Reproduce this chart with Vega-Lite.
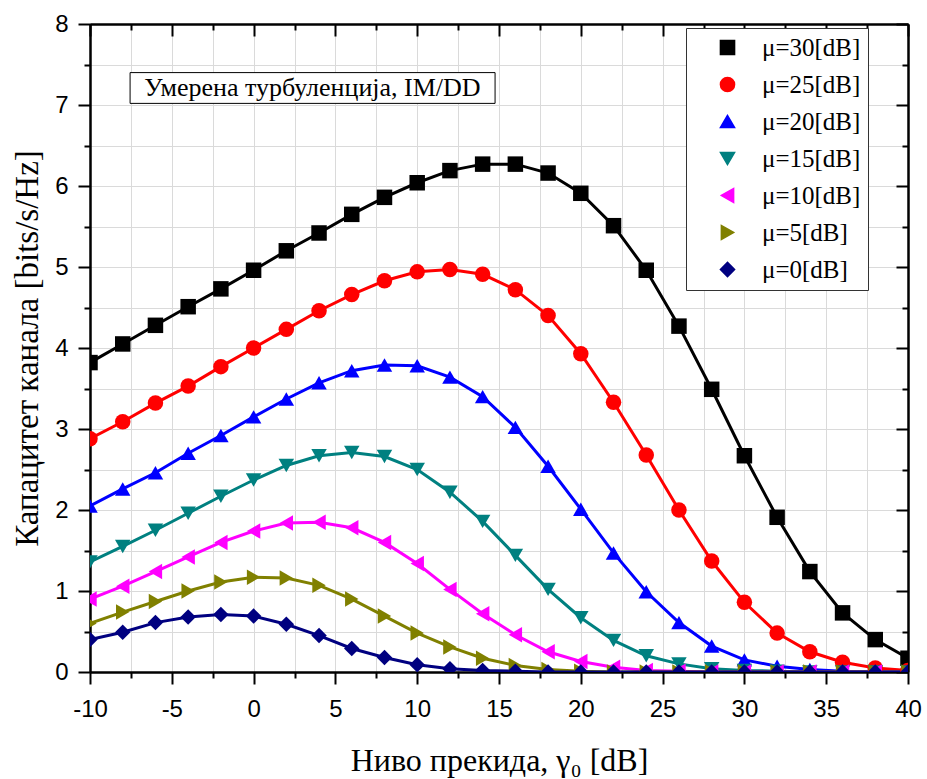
{
  "$schema": "https://vega.github.io/schema/vega-lite/v6.json",
  "width": 818,
  "height": 648,
  "autosize": "none",
  "padding": {"left": 90, "top": 24, "right": 19, "bottom": 107},
  "background": "white",
  "config": {
    "view": {"stroke": null},
    "axis": {"labelFont": "Liberation Sans", "labelFontSize": 24, "labelColor": "black", "titleFont": "Liberation Serif", "titleFontWeight": "normal", "titleColor": "black", "domainColor": "black", "domainWidth": 2, "tickColor": "black", "tickWidth": 2, "gridColor": "#dadada", "gridWidth": 1, "labelFlush": false, "labelOverlap": false}
  },
  "data": {"values": [
    {"x":-10,"y":3.82,"s":"μ=30[dB]"},{"x":-8,"y":4.05,"s":"μ=30[dB]"},{"x":-6,"y":4.28,"s":"μ=30[dB]"},{"x":-4,"y":4.51,"s":"μ=30[dB]"},{"x":-2,"y":4.73,"s":"μ=30[dB]"},{"x":0,"y":4.96,"s":"μ=30[dB]"},{"x":2,"y":5.20,"s":"μ=30[dB]"},{"x":4,"y":5.42,"s":"μ=30[dB]"},{"x":6,"y":5.65,"s":"μ=30[dB]"},{"x":8,"y":5.86,"s":"μ=30[dB]"},{"x":10,"y":6.04,"s":"μ=30[dB]"},{"x":12,"y":6.19,"s":"μ=30[dB]"},{"x":14,"y":6.27,"s":"μ=30[dB]"},{"x":16,"y":6.27,"s":"μ=30[dB]"},{"x":18,"y":6.16,"s":"μ=30[dB]"},{"x":20,"y":5.91,"s":"μ=30[dB]"},{"x":22,"y":5.51,"s":"μ=30[dB]"},{"x":24,"y":4.96,"s":"μ=30[dB]"},{"x":26,"y":4.27,"s":"μ=30[dB]"},{"x":28,"y":3.49,"s":"μ=30[dB]"},{"x":30,"y":2.67,"s":"μ=30[dB]"},{"x":32,"y":1.91,"s":"μ=30[dB]"},{"x":34,"y":1.24,"s":"μ=30[dB]"},{"x":36,"y":0.73,"s":"μ=30[dB]"},{"x":38,"y":0.40,"s":"μ=30[dB]"},{"x":40,"y":0.17,"s":"μ=30[dB]"},
    {"x":-10,"y":2.88,"s":"μ=25[dB]"},{"x":-8,"y":3.09,"s":"μ=25[dB]"},{"x":-6,"y":3.32,"s":"μ=25[dB]"},{"x":-4,"y":3.53,"s":"μ=25[dB]"},{"x":-2,"y":3.77,"s":"μ=25[dB]"},{"x":0,"y":4.00,"s":"μ=25[dB]"},{"x":2,"y":4.23,"s":"μ=25[dB]"},{"x":4,"y":4.46,"s":"μ=25[dB]"},{"x":6,"y":4.66,"s":"μ=25[dB]"},{"x":8,"y":4.83,"s":"μ=25[dB]"},{"x":10,"y":4.94,"s":"μ=25[dB]"},{"x":12,"y":4.97,"s":"μ=25[dB]"},{"x":14,"y":4.91,"s":"μ=25[dB]"},{"x":16,"y":4.72,"s":"μ=25[dB]"},{"x":18,"y":4.40,"s":"μ=25[dB]"},{"x":20,"y":3.93,"s":"μ=25[dB]"},{"x":22,"y":3.33,"s":"μ=25[dB]"},{"x":24,"y":2.68,"s":"μ=25[dB]"},{"x":26,"y":2.00,"s":"μ=25[dB]"},{"x":28,"y":1.37,"s":"μ=25[dB]"},{"x":30,"y":0.86,"s":"μ=25[dB]"},{"x":32,"y":0.48,"s":"μ=25[dB]"},{"x":34,"y":0.25,"s":"μ=25[dB]"},{"x":36,"y":0.12,"s":"μ=25[dB]"},{"x":38,"y":0.05,"s":"μ=25[dB]"},{"x":40,"y":0.02,"s":"μ=25[dB]"},
    {"x":-10,"y":2.05,"s":"μ=20[dB]"},{"x":-8,"y":2.26,"s":"μ=20[dB]"},{"x":-6,"y":2.46,"s":"μ=20[dB]"},{"x":-4,"y":2.70,"s":"μ=20[dB]"},{"x":-2,"y":2.92,"s":"μ=20[dB]"},{"x":0,"y":3.15,"s":"μ=20[dB]"},{"x":2,"y":3.37,"s":"μ=20[dB]"},{"x":4,"y":3.57,"s":"μ=20[dB]"},{"x":6,"y":3.72,"s":"μ=20[dB]"},{"x":8,"y":3.79,"s":"μ=20[dB]"},{"x":10,"y":3.78,"s":"μ=20[dB]"},{"x":12,"y":3.64,"s":"μ=20[dB]"},{"x":14,"y":3.40,"s":"μ=20[dB]"},{"x":16,"y":3.02,"s":"μ=20[dB]"},{"x":18,"y":2.54,"s":"μ=20[dB]"},{"x":20,"y":2.01,"s":"μ=20[dB]"},{"x":22,"y":1.47,"s":"μ=20[dB]"},{"x":24,"y":0.99,"s":"μ=20[dB]"},{"x":26,"y":0.61,"s":"μ=20[dB]"},{"x":28,"y":0.32,"s":"μ=20[dB]"},{"x":30,"y":0.15,"s":"μ=20[dB]"},{"x":32,"y":0.07,"s":"μ=20[dB]"},{"x":34,"y":0.03,"s":"μ=20[dB]"},{"x":36,"y":0.01,"s":"μ=20[dB]"},{"x":38,"y":0.0,"s":"μ=20[dB]"},{"x":40,"y":0.0,"s":"μ=20[dB]"},
    {"x":-10,"y":1.36,"s":"μ=15[dB]"},{"x":-8,"y":1.55,"s":"μ=15[dB]"},{"x":-6,"y":1.75,"s":"μ=15[dB]"},{"x":-4,"y":1.96,"s":"μ=15[dB]"},{"x":-2,"y":2.17,"s":"μ=15[dB]"},{"x":0,"y":2.37,"s":"μ=15[dB]"},{"x":2,"y":2.55,"s":"μ=15[dB]"},{"x":4,"y":2.67,"s":"μ=15[dB]"},{"x":6,"y":2.71,"s":"μ=15[dB]"},{"x":8,"y":2.66,"s":"μ=15[dB]"},{"x":10,"y":2.50,"s":"μ=15[dB]"},{"x":12,"y":2.22,"s":"μ=15[dB]"},{"x":14,"y":1.86,"s":"μ=15[dB]"},{"x":16,"y":1.44,"s":"μ=15[dB]"},{"x":18,"y":1.02,"s":"μ=15[dB]"},{"x":20,"y":0.67,"s":"μ=15[dB]"},{"x":22,"y":0.39,"s":"μ=15[dB]"},{"x":24,"y":0.20,"s":"μ=15[dB]"},{"x":26,"y":0.10,"s":"μ=15[dB]"},{"x":28,"y":0.04,"s":"μ=15[dB]"},{"x":30,"y":0.02,"s":"μ=15[dB]"},{"x":32,"y":0.01,"s":"μ=15[dB]"},{"x":34,"y":0.0,"s":"μ=15[dB]"},{"x":36,"y":0.0,"s":"μ=15[dB]"},{"x":38,"y":0.0,"s":"μ=15[dB]"},{"x":40,"y":0.0,"s":"μ=15[dB]"},
    {"x":-10,"y":0.90,"s":"μ=10[dB]"},{"x":-8,"y":1.06,"s":"μ=10[dB]"},{"x":-6,"y":1.24,"s":"μ=10[dB]"},{"x":-4,"y":1.42,"s":"μ=10[dB]"},{"x":-2,"y":1.60,"s":"μ=10[dB]"},{"x":0,"y":1.74,"s":"μ=10[dB]"},{"x":2,"y":1.84,"s":"μ=10[dB]"},{"x":4,"y":1.85,"s":"μ=10[dB]"},{"x":6,"y":1.78,"s":"μ=10[dB]"},{"x":8,"y":1.60,"s":"μ=10[dB]"},{"x":10,"y":1.34,"s":"μ=10[dB]"},{"x":12,"y":1.02,"s":"μ=10[dB]"},{"x":14,"y":0.72,"s":"μ=10[dB]"},{"x":16,"y":0.46,"s":"μ=10[dB]"},{"x":18,"y":0.25,"s":"μ=10[dB]"},{"x":20,"y":0.13,"s":"μ=10[dB]"},{"x":22,"y":0.06,"s":"μ=10[dB]"},{"x":24,"y":0.02,"s":"μ=10[dB]"},{"x":26,"y":0.01,"s":"μ=10[dB]"},{"x":28,"y":0.0,"s":"μ=10[dB]"},{"x":30,"y":0.0,"s":"μ=10[dB]"},{"x":32,"y":0.0,"s":"μ=10[dB]"},{"x":34,"y":0.0,"s":"μ=10[dB]"},{"x":36,"y":0.0,"s":"μ=10[dB]"},{"x":38,"y":0.0,"s":"μ=10[dB]"},{"x":40,"y":0.0,"s":"μ=10[dB]"},
    {"x":-10,"y":0.60,"s":"μ=5[dB]"},{"x":-8,"y":0.74,"s":"μ=5[dB]"},{"x":-6,"y":0.87,"s":"μ=5[dB]"},{"x":-4,"y":1.00,"s":"μ=5[dB]"},{"x":-2,"y":1.11,"s":"μ=5[dB]"},{"x":0,"y":1.17,"s":"μ=5[dB]"},{"x":2,"y":1.16,"s":"μ=5[dB]"},{"x":4,"y":1.07,"s":"μ=5[dB]"},{"x":6,"y":0.90,"s":"μ=5[dB]"},{"x":8,"y":0.69,"s":"μ=5[dB]"},{"x":10,"y":0.48,"s":"μ=5[dB]"},{"x":12,"y":0.31,"s":"μ=5[dB]"},{"x":14,"y":0.17,"s":"μ=5[dB]"},{"x":16,"y":0.08,"s":"μ=5[dB]"},{"x":18,"y":0.03,"s":"μ=5[dB]"},{"x":20,"y":0.01,"s":"μ=5[dB]"},{"x":22,"y":0.0,"s":"μ=5[dB]"},{"x":24,"y":0.0,"s":"μ=5[dB]"},{"x":26,"y":0.0,"s":"μ=5[dB]"},{"x":28,"y":0.0,"s":"μ=5[dB]"},{"x":30,"y":0.0,"s":"μ=5[dB]"},{"x":32,"y":0.0,"s":"μ=5[dB]"},{"x":34,"y":0.0,"s":"μ=5[dB]"},{"x":36,"y":0.0,"s":"μ=5[dB]"},{"x":38,"y":0.0,"s":"μ=5[dB]"},{"x":40,"y":0.0,"s":"μ=5[dB]"},
    {"x":-10,"y":0.40,"s":"μ=0[dB]"},{"x":-8,"y":0.49,"s":"μ=0[dB]"},{"x":-6,"y":0.61,"s":"μ=0[dB]"},{"x":-4,"y":0.68,"s":"μ=0[dB]"},{"x":-2,"y":0.71,"s":"μ=0[dB]"},{"x":0,"y":0.69,"s":"μ=0[dB]"},{"x":2,"y":0.59,"s":"μ=0[dB]"},{"x":4,"y":0.45,"s":"μ=0[dB]"},{"x":6,"y":0.29,"s":"μ=0[dB]"},{"x":8,"y":0.18,"s":"μ=0[dB]"},{"x":10,"y":0.09,"s":"μ=0[dB]"},{"x":12,"y":0.04,"s":"μ=0[dB]"},{"x":14,"y":0.02,"s":"μ=0[dB]"},{"x":16,"y":0.01,"s":"μ=0[dB]"},{"x":18,"y":0.0,"s":"μ=0[dB]"},{"x":20,"y":0.0,"s":"μ=0[dB]"},{"x":22,"y":0.0,"s":"μ=0[dB]"},{"x":24,"y":0.0,"s":"μ=0[dB]"},{"x":26,"y":0.0,"s":"μ=0[dB]"},{"x":28,"y":0.0,"s":"μ=0[dB]"},{"x":30,"y":0.0,"s":"μ=0[dB]"},{"x":32,"y":0.0,"s":"μ=0[dB]"},{"x":34,"y":0.0,"s":"μ=0[dB]"},{"x":36,"y":0.0,"s":"μ=0[dB]"},{"x":38,"y":0.0,"s":"μ=0[dB]"},{"x":40,"y":0.0,"s":"μ=0[dB]"}
  ]},
  "resolve": {"axis": {"x": "independent", "y": "independent"}},
  "layer": [
    {
      "data": {"values": [{"label": "Умерена турбуленција, IM/DD"}]},
      "mark": {"type": "rect", "fill": "white", "stroke": "black", "strokeWidth": 1},
      "encoding": {
        "x": {"datum": -7.55, "type": "quantitative", "scale": {"domain": [-10, 40], "nice": false, "zero": false},
          "axis": {"orient": "bottom", "values": [-7.5,-2.5,2.5,7.5,12.5,17.5,22.5,27.5,32.5,37.5], "labels": false, "tickSize": 6, "title": null, "grid": true}},
        "x2": {"datum": 14.76},
        "y": {"datum": 7.40, "type": "quantitative", "scale": {"domain": [0, 8], "nice": false},
          "axis": {"orient": "left", "values": [0.5,1.5,2.5,3.5,4.5,5.5,6.5,7.5], "labels": false, "tickSize": 6, "title": null, "grid": true}},
        "y2": {"datum": 7.02}
      }
    },
    {
      "data": {"values": [{"label": "Умерена турбуленција, IM/DD"}]},
      "mark": {"type": "text", "font": "Liberation Serif", "fontSize": 26, "color": "black", "align": "center", "baseline": "middle"},
      "encoding": {
        "x": {"datum": 3.6, "type": "quantitative",
          "axis": {"orient": "top", "values": [-7.5,-2.5,2.5,7.5,12.5,17.5,22.5,27.5,32.5,37.5], "labels": false, "tickSize": -6, "title": null, "grid": false}},
        "y": {"datum": 7.21, "type": "quantitative",
          "axis": {"orient": "right", "values": [0.5,1.5,2.5,3.5,4.5,5.5,6.5,7.5], "labels": false, "tickSize": -6, "title": null, "grid": false}},
        "text": {"field": "label"}
      }
    },
    {
      "mark": {"type": "line", "strokeWidth": 3, "clip": true},
      "encoding": {
        "x": {"field": "x", "type": "quantitative",
          "axis": {"orient": "bottom", "title": "Ниво прекида, γ₀ [dB]", "titleFontSize": 32, "values": [-10,-5,0,5,10,15,20,25,30,35,40],
            "labelExpr": "'' + datum.value", "tickSize": 12, "labelPadding": 13, "grid": true, "titlePadding": 24}},
        "y": {"field": "y", "type": "quantitative",
          "axis": {"orient": "left", "title": "Капацитет канала [bits/s/Hz]", "titleFontSize": 33, "values": [0,1,2,3,4,5,6,7,8],
            "labelExpr": "'' + datum.value", "tickSize": 12, "labelPadding": 10, "grid": true, "titlePadding": 10}},
        "color": {"field": "s", "type": "nominal",
          "scale": {"domain": ["μ=30[dB]","μ=25[dB]","μ=20[dB]","μ=15[dB]","μ=10[dB]","μ=5[dB]","μ=0[dB]"], "range": ["#000000","#ff0000","#0000ff","#008080","#ff00ff","#808000","#000080"]},
          "legend": {"orient": "none", "legendX": 596, "legendY": 4, "title": null, "padding": 7,
            "strokeColor": "#333333", "fillColor": "white", "labelFont": "Liberation Serif", "labelFontSize": 25, "labelColor": "black",
            "symbolSize": 200, "symbolOffset": 22, "labelOffset": 22, "rowPadding": 11, "labelLimit": 300}},
        "detail": {"field": "s"}
      }
    },
    {
      "mark": {"type": "point", "filled": true, "opacity": 1, "size": 240, "clip": true},
      "encoding": {
        "x": {"field": "x", "type": "quantitative",
          "axis": {"orient": "top", "title": null, "labels": false, "grid": false, "values": [-10,-5,0,5,10,15,20,25,30,35,40], "tickSize": -12}},
        "y": {"field": "y", "type": "quantitative",
          "axis": {"orient": "right", "title": null, "labels": false, "grid": false, "values": [0,1,2,3,4,5,6,7,8], "tickSize": -12}},
        "color": {"field": "s", "type": "nominal"},
        "shape": {"field": "s", "type": "nominal",
          "scale": {"domain": ["μ=30[dB]","μ=25[dB]","μ=20[dB]","μ=15[dB]","μ=10[dB]","μ=5[dB]","μ=0[dB]"], "range": ["square","circle","triangle-up","triangle-down","triangle-left","triangle-right","diamond"]},
          "legend": null}
      }
    }
  ]
}
